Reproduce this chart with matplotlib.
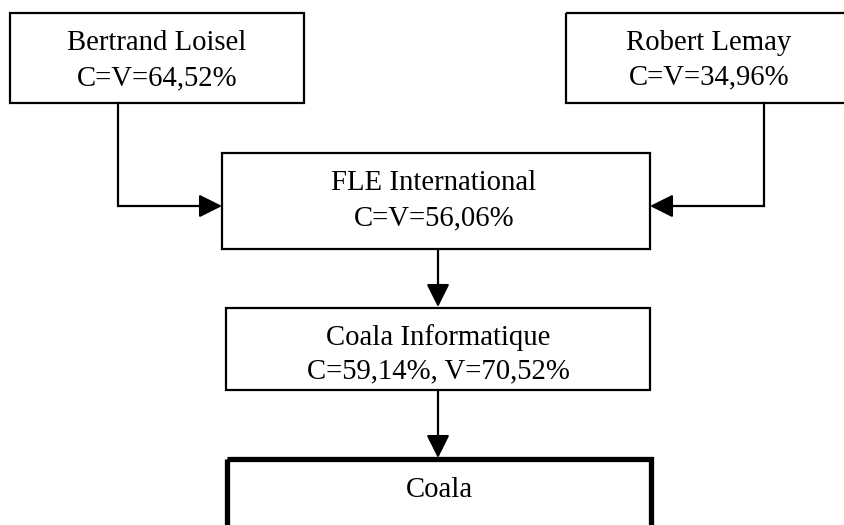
"""
Organigramme de contrôle : détention C (capital) / V (votes) jusqu'à Coala.
"""

import matplotlib
matplotlib.use("Agg")
import matplotlib.pyplot as plt
from matplotlib.patches import Rectangle

plt.rcParams["font.family"] = ["Liberation Serif", "DejaVu Serif"]

# ── données ────────────────────────────────────────────────
names  = ["Bertrand Loisel", "Robert Lemay", "FLE International",
          "Coala Informatique", "Coala"]
stakes = ["C=V=64,52%", "C=V=34,96%", "C=V=56,06%",
          "C=59,14%, V=70,52%", ""]
# liens de détention : (détenteur, détenu)
links  = [(0, 2), (1, 2), (2, 3), (3, 4)]

# ── mise en page (pixels, origine en haut à gauche) ─────────
# x0, y0, x1, y1, épaisseur du cadre
boxes = [
    (10, 13, 304, 103, 1.6),
    (566, 13, 870, 103, 1.6),
    (222, 153, 650, 249, 1.6),
    (226, 308, 650, 390, 1.6),
    (227, 459, 651, 560, 3.8),
]
text_x = [157, 709, 434, 438, 439]
baselines = [(50, 85), (50, 84), (190, 225), (345, 378), (497, None)]
elbow_x = {0: 118, 1: 764}   # lignes verticales des actionnaires
elbow_y = 206
FS = 20.7

fig = plt.figure(figsize=(8.45, 5.25), dpi=100)
ax = fig.add_axes([0, 0, 1, 1])
ax.set_xlim(0, 845)
ax.set_ylim(525, 0)
ax.axis("off")

for i, (x0, y0, x1, y1, lw) in enumerate(boxes):
    ax.add_patch(Rectangle((x0, y0), x1 - x0, y1 - y0, fill=False,
                           edgecolor="black", linewidth=lw))
    b1, b2 = baselines[i]
    ax.text(text_x[i], b1, names[i], ha="center", va="baseline", fontsize=FS)
    if stakes[i]:
        ax.text(text_x[i], b2, stakes[i], ha="center", va="baseline", fontsize=FS)

arrow = dict(arrowstyle="-|>,head_length=0.7,head_width=0.35",
             mutation_scale=20, color="black",
             linewidth=1.6, shrinkA=0, shrinkB=0)

for src, dst in links:
    sx0, sy0, sx1, sy1, _ = boxes[src]
    dx0, dy0, dx1, dy1, _ = boxes[dst]
    if src in elbow_x:
        vx = elbow_x[src]
        ax.plot([vx, vx], [sy1, elbow_y], color="black", linewidth=1.6,
                solid_capstyle="projecting")
        tx = dx0 if vx < dx0 else dx1
        ax.annotate("", xy=(tx, elbow_y), xytext=(vx, elbow_y),
                    arrowprops=arrow)
    else:
        cx = 438
        ax.annotate("", xy=(cx, dy0 - 1), xytext=(cx, sy1),
                    arrowprops=arrow)

fig.savefig("out.png", dpi=100)
